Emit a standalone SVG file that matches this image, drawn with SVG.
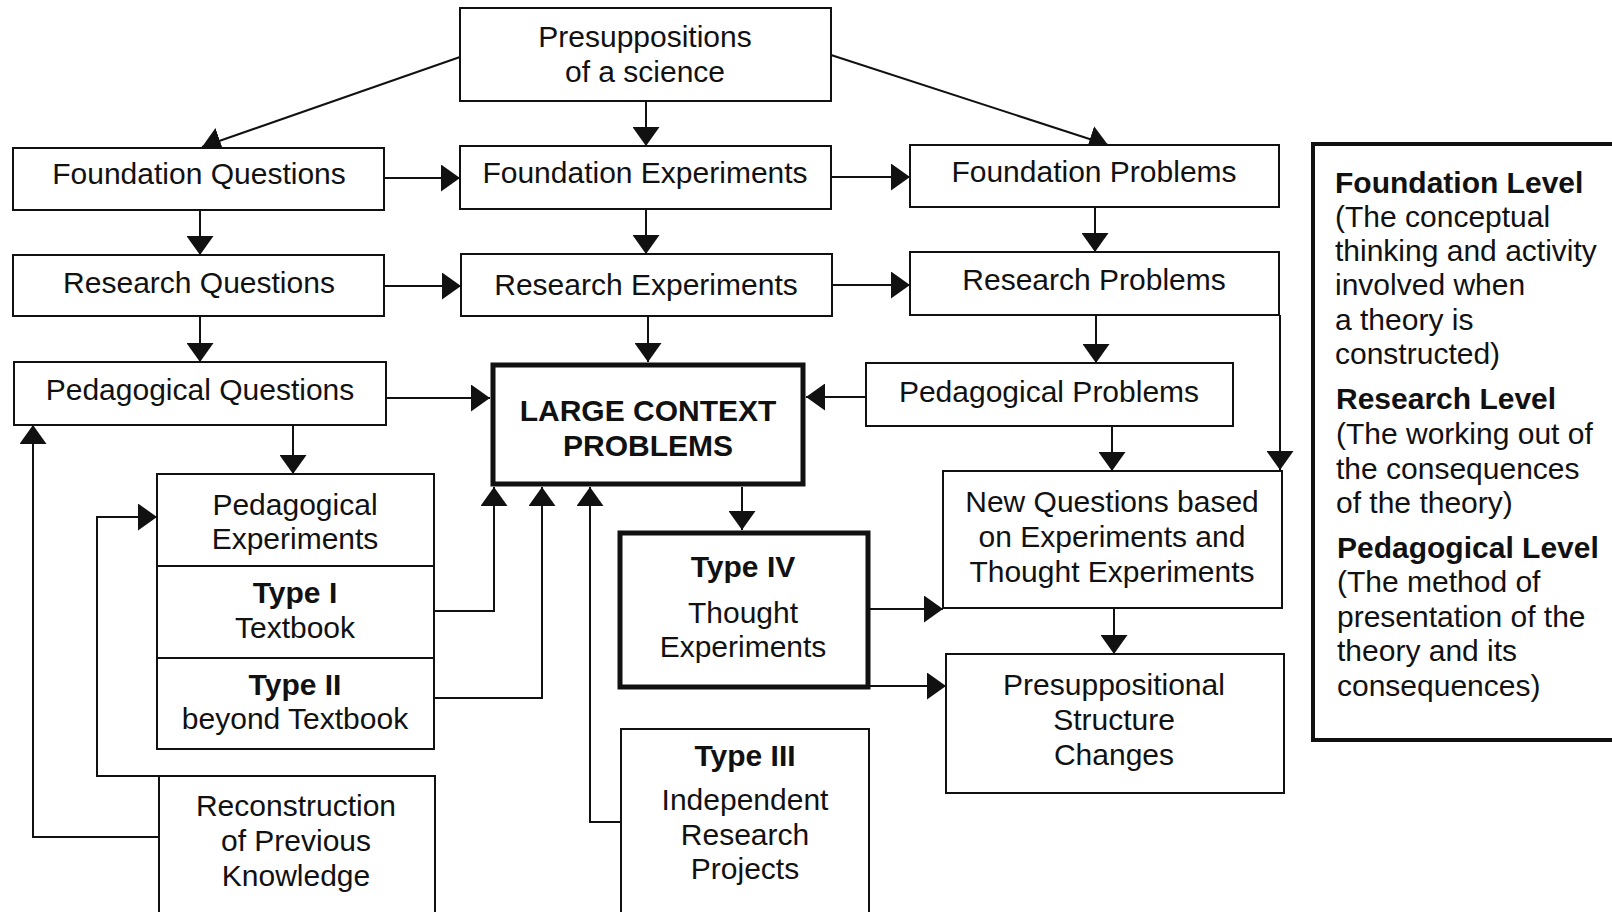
<svg xmlns="http://www.w3.org/2000/svg" width="1612" height="912" viewBox="0 0 1612 912">
<style>
.b{fill:#fff;stroke:#111;stroke-width:2}
.bt{fill:#fff;stroke:#111;stroke-width:5}
.t{font-family:"Liberation Sans",Arial,sans-serif;font-size:30px;fill:#111;text-anchor:middle}
.tb{font-weight:bold}
.l{font-family:"Liberation Sans",Arial,sans-serif;font-size:30px;fill:#111}
.c{fill:none;stroke:#111;stroke-width:2}
</style>
<defs>
<marker id="ah" viewBox="0 0 19 27" refX="19" refY="13.5" markerWidth="19" markerHeight="27" markerUnits="userSpaceOnUse" orient="auto">
<path d="M0,0 L19,13.5 L0,27 z" fill="#111"/>
</marker>
</defs>
<rect width="1612" height="912" fill="#fff"/>
<g id="connectors">
<path class="c" marker-end="url(#ah)" d="M460,57 L202,147"/>
<path class="c" marker-end="url(#ah)" d="M646,101 L646,146"/>
<path class="c" marker-end="url(#ah)" d="M831,55 L1108,145"/>
<path class="c" marker-end="url(#ah)" d="M384,178 L460,178"/>
<path class="c" marker-end="url(#ah)" d="M831,177 L910,177"/>
<path class="c" marker-end="url(#ah)" d="M200,210 L200,255"/>
<path class="c" marker-end="url(#ah)" d="M646,209 L646,254"/>
<path class="c" marker-end="url(#ah)" d="M1095,207 L1095,252"/>
<path class="c" marker-end="url(#ah)" d="M384,286 L461,286"/>
<path class="c" marker-end="url(#ah)" d="M832,285 L910,285"/>
<path class="c" marker-end="url(#ah)" d="M200,316 L200,362"/>
<path class="c" marker-end="url(#ah)" d="M648,316 L648,362"/>
<path class="c" marker-end="url(#ah)" d="M1096,315 L1096,363"/>
<path class="c" marker-end="url(#ah)" d="M1280,315 L1280,470"/>
<path class="c" marker-end="url(#ah)" d="M386,398 L490,398"/>
<path class="c" marker-end="url(#ah)" d="M866,397 L806,397"/>
<path class="c" marker-end="url(#ah)" d="M293,425 L293,474"/>
<path class="c" marker-end="url(#ah)" d="M1112,426 L1112,471"/>
<path class="c" marker-end="url(#ah)" d="M434,611 L494,611 L494,487"/>
<path class="c" marker-end="url(#ah)" d="M434,698 L542,698 L542,487"/>
<path class="c" marker-end="url(#ah)" d="M621,822 L590,822 L590,487"/>
<path class="c" marker-end="url(#ah)" d="M742,487 L742,530"/>
<path class="c" marker-end="url(#ah)" d="M868,609 L943,609"/>
<path class="c" marker-end="url(#ah)" d="M868,686 L946,686"/>
<path class="c" marker-end="url(#ah)" d="M1114,608 L1114,654"/>
<path class="c" marker-end="url(#ah)" d="M159,776 L97,776 L97,517 L157,517"/>
<path class="c" marker-end="url(#ah)" d="M159,837 L33,837 L33,425"/>
</g>
<g id="presuppositions">
<rect class="b" x="460" y="8" width="371" height="93"/>
<text class="t" x="645" y="47">Presuppositions</text>
<text class="t" x="645" y="82">of a science</text>
</g>
<g id="foundation-questions">
<rect class="b" x="13" y="148" width="371" height="62"/>
<text class="t" x="199" y="184">Foundation Questions</text>
</g>
<g id="foundation-experiments">
<rect class="b" x="460" y="146" width="371" height="63"/>
<text class="t" x="645" y="183">Foundation Experiments</text>
</g>
<g id="foundation-problems">
<rect class="b" x="910" y="145" width="369" height="62"/>
<text class="t" x="1094" y="182">Foundation Problems</text>
</g>
<g id="research-questions">
<rect class="b" x="13" y="255" width="371" height="61"/>
<text class="t" x="199" y="293">Research Questions</text>
</g>
<g id="research-experiments">
<rect class="b" x="461" y="254" width="371" height="62"/>
<text class="t" x="646" y="295">Research Experiments</text>
</g>
<g id="research-problems">
<rect class="b" x="910" y="252" width="369" height="63"/>
<text class="t" x="1094" y="290">Research Problems</text>
</g>
<g id="pedagogical-questions">
<rect class="b" x="14" y="362" width="372" height="63"/>
<text class="t" x="200" y="400">Pedagogical Questions</text>
</g>
<g id="large-context-problems">
<rect class="bt" x="493" y="365" width="310" height="119"/>
<text class="t tb" x="648" y="421">LARGE CONTEXT</text>
<text class="t tb" x="648" y="456">PROBLEMS</text>
</g>
<g id="pedagogical-problems">
<rect class="b" x="866" y="363" width="367" height="63"/>
<text class="t" x="1049" y="402">Pedagogical Problems</text>
</g>
<g id="pedagogical-experiments">
<rect class="b" x="157" y="474" width="277" height="92"/>
<text class="t" x="295" y="515">Pedagogical</text>
<text class="t" x="295" y="549">Experiments</text>
</g>
<g id="type-1">
<rect class="b" x="157" y="566" width="277" height="92"/>
<text class="t tb" x="295" y="603">Type I</text>
<text class="t" x="295" y="638">Textbook</text>
</g>
<g id="type-2">
<rect class="b" x="157" y="658" width="277" height="91"/>
<text class="t tb" x="295" y="695">Type II</text>
<text class="t" x="295" y="729">beyond Textbook</text>
</g>
<g id="reconstruction">
<rect class="b" x="159" y="776" width="276" height="160"/>
<text class="t" x="296" y="816">Reconstruction</text>
<text class="t" x="296" y="851">of Previous</text>
<text class="t" x="296" y="886">Knowledge</text>
</g>
<g id="type-4">
<rect class="bt" x="620" y="533" width="248" height="154"/>
<text class="t tb" x="743" y="577">Type IV</text>
<text class="t" x="743" y="623">Thought</text>
<text class="t" x="743" y="657">Experiments</text>
</g>
<g id="type-3">
<rect class="b" x="621" y="729" width="248" height="200"/>
<text class="t tb" x="745" y="766">Type III</text>
<text class="t" x="745" y="810">Independent</text>
<text class="t" x="745" y="845">Research</text>
<text class="t" x="745" y="879">Projects</text>
</g>
<g id="new-questions">
<rect class="b" x="943" y="471" width="339" height="137"/>
<text class="t" x="1112" y="512">New Questions based</text>
<text class="t" x="1112" y="547">on Experiments and</text>
<text class="t" x="1112" y="582">Thought Experiments</text>
</g>
<g id="presuppositional-structure-changes">
<rect class="b" x="946" y="654" width="338" height="139"/>
<text class="t" x="1114" y="695">Presuppositional</text>
<text class="t" x="1114" y="730">Structure</text>
<text class="t" x="1114" y="765">Changes</text>
</g>
<g id="legend">
<rect x="1313" y="144" width="320" height="596" fill="#fff" stroke="#111" stroke-width="4"/>
<text class="l" x="1335"><tspan class="tb" x="1335" y="193">Foundation Level</tspan><tspan x="1335" y="227">(The conceptual</tspan><tspan x="1335" y="261">thinking and activity</tspan><tspan x="1335" y="295">involved when</tspan><tspan x="1335" y="330">a theory is</tspan><tspan x="1335" y="364">constructed)</tspan><tspan class="tb" x="1336" y="409">Research Level</tspan><tspan x="1336" y="444">(The working out of</tspan><tspan x="1336" y="479">the consequences</tspan><tspan x="1336" y="513">of the theory)</tspan><tspan class="tb" x="1337" y="558">Pedagogical Level</tspan><tspan x="1337" y="592">(The method of</tspan><tspan x="1337" y="627">presentation of the</tspan><tspan x="1337" y="661">theory and its</tspan><tspan x="1337" y="696">consequences)</tspan></text>
</g>
</svg>
